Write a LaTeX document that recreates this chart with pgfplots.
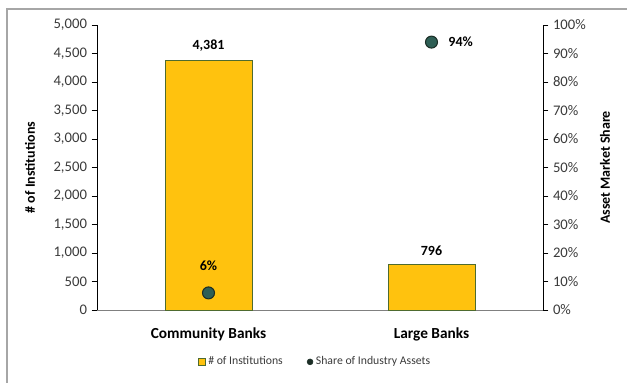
\documentclass[border=0pt]{standalone}
\usepackage{fontspec}
\setmainfont{Carlito}
\usepackage{pgfplots}
\pgfplotsset{compat=1.18}
\definecolor{barfill}{HTML}{FFC20E}
\definecolor{bardraw}{HTML}{4E6B2F}
\definecolor{dotfill}{HTML}{2E5F55}
\definecolor{dotdraw}{HTML}{1C2E26}
\definecolor{ticktext}{HTML}{3A3A3A}
\begin{document}
\begin{tikzpicture}
\path[use as bounding box] (0,0) rectangle (470.25pt,-286.5pt);
\draw[color=gray!70, line width=1.2pt] (5.25pt,-290pt) -- (5.25pt,-6.75pt) -- (472pt,-6.75pt);
\begin{axis}[
  at={(72.75pt,-232.5pt)}, anchor=south west,
  scale only axis, width=334.5pt, height=213.75pt,
  xmin=-0.5, xmax=1.5, ymin=0, ymax=5000,
  axis x line*=bottom, axis y line*=left,
  x axis line style={draw=gray, -},
  y axis line style={draw=black, -},
  tick align=outside,
  xtick={0,1}, xticklabels={Community Banks, Large Banks},
  x tick label style={font=\fontsize{11.5}{13}\selectfont\bfseries, text=black, yshift=-6pt},
  major x tick style={draw=none},
  extra x ticks={0.5}, extra x tick labels={},
  extra x tick style={major tick length=4pt, tick style={draw=gray}},
  ytick={0,500,...,5000},
  y tick style={draw=black},
  major tick length=4pt,
  y tick label style={font=\fontsize{11}{12}\selectfont, text=ticktext},
  /pgf/number format/.cd, 1000 sep={,}, assume math mode=true, /pgfplots/.cd,
  ylabel={\# of Institutions},
  ylabel style={font=\fontsize{10.5}{12}\selectfont\bfseries, at={(axis description cs:-0.150,0.5)}, anchor=center},
  ybar, bar width=0.39,
  nodes near coords,
  point meta=explicit symbolic,
  nodes near coords style={font=\fontsize{10.5}{12}\selectfont\bfseries, text=black, yshift=3pt},
]
\addplot[fill=barfill, draw=bardraw, line width=0.7pt] coordinates {(0,4381) [4,381] (1,796) [796]};
\end{axis}
\begin{axis}[
  at={(72.75pt,-232.5pt)}, anchor=south west,
  scale only axis, width=334.5pt, height=213.75pt,
  xmin=-0.5, xmax=1.5, ymin=0, ymax=100,
  axis x line=none, axis y line*=right,
  y axis line style={draw=black, -},
  tick align=outside,
  ytick={0,10,...,100},
  yticklabel={\pgfmathprintnumber{\tick}\%},
  y tick style={draw=black},
  major tick length=4pt,
  y tick label style={font=\fontsize{11}{12}\selectfont, text=ticktext},
  /pgf/number format/assume math mode=true,
  ylabel={Asset Market Share},
  ylabel style={font=\fontsize{10.5}{12}\selectfont\bfseries, at={(axis description cs:1.139,0.5)}, anchor=center},
  legend style={at={(0.49,-0.182)}, anchor=center, draw=none, fill=none,
    font=\fontsize{8.8}{10}\selectfont, text=ticktext, legend columns=-1,
    /tikz/every even column/.append style={column sep=16pt}},
]
\addlegendimage{legend image code/.code={\draw[fill=barfill,draw=bardraw,line width=0.5pt] (0pt,-2.5pt) rectangle (5pt,2.5pt);}}
\addlegendentry{\# of Institutions}
\addplot[only marks, mark=*, mark size=4.5pt, mark options={fill=dotfill, draw=dotdraw, line width=0.8pt},
  point meta=y, nodes near coords={\pgfmathprintnumber{\pgfplotspointmeta}\%},
  nodes near coords style={font=\fontsize{10.5}{12}\selectfont\bfseries, text=black, anchor=south, yshift=13pt},
  legend image code/.code={\fill[dotdraw] (4pt,0pt) circle (2.2pt);}]
  coordinates {(0,6)};
\addlegendentry{Share of Industry Assets}
\addplot[only marks, mark=*, mark size=4.5pt, mark options={fill=dotfill, draw=dotdraw, line width=0.8pt},
  point meta=y, nodes near coords={\pgfmathprintnumber{\pgfplotspointmeta}\%},
  nodes near coords style={font=\fontsize{10.5}{12}\selectfont\bfseries, text=black, anchor=west, xshift=9pt}, forget plot]
  coordinates {(1,94)};
\end{axis}
\end{tikzpicture}
\end{document}
